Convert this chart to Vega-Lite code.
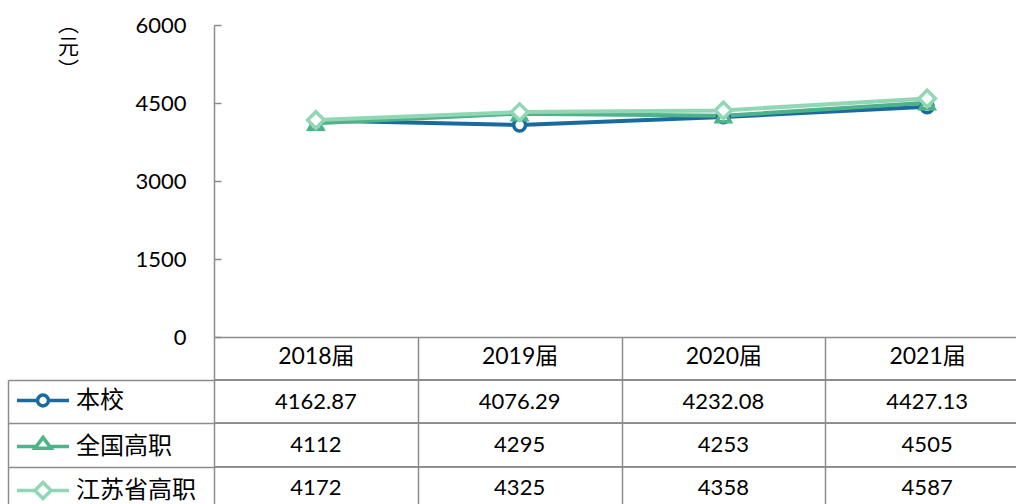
{
  "$schema": "https://vega.github.io/schema/vega-lite/v6.json",
  "width": 802,
  "height": 479,
  "autosize": "none",
  "padding": {"left": 214, "top": 25, "right": 0, "bottom": 0},
  "background": "white",
  "config": {"view": {"stroke": null}, "font": "Lato, Noto Sans CJK SC"},
  "data": {
    "values": [
      {"cat": "2018届", "series": "本校", "value": 4162.87, "text": "4162.87"},
      {"cat": "2019届", "series": "本校", "value": 4076.29, "text": "4076.29"},
      {"cat": "2020届", "series": "本校", "value": 4232.08, "text": "4232.08"},
      {"cat": "2021届", "series": "本校", "value": 4427.13, "text": "4427.13"},
      {"cat": "2018届", "series": "全国高职", "value": 4112, "text": "4112"},
      {"cat": "2019届", "series": "全国高职", "value": 4295, "text": "4295"},
      {"cat": "2020届", "series": "全国高职", "value": 4253, "text": "4253"},
      {"cat": "2021届", "series": "全国高职", "value": 4505, "text": "4505"},
      {"cat": "2018届", "series": "江苏省高职", "value": 4172, "text": "4172"},
      {"cat": "2019届", "series": "江苏省高职", "value": 4325, "text": "4325"},
      {"cat": "2020届", "series": "江苏省高职", "value": 4358, "text": "4358"},
      {"cat": "2021届", "series": "江苏省高职", "value": 4587, "text": "4587"}
    ]
  },
  "resolve": {"scale": {"y": "independent"}, "axis": {"y": "independent"}},
  "layer": [
    {
      "layer": [
        {
          "mark": {"type": "line", "strokeWidth": 4},
          "encoding": {
            "x": {
              "field": "cat", "type": "ordinal", "bandPosition": 0.5,
              "scale": {"type": "band", "domain": ["2018届", "2019届", "2020届", "2021届"], "range": [0, 815], "paddingInner": 0, "paddingOuter": 0},
              "axis": {
                "title": null, "orient": "bottom", "offset": -167,
                "domainColor": "#8C8C8C", "domainWidth": 1.5,
                "ticks": true, "tickBand": "extent", "tickSize": 180, "tickColor": "#8C8C8C", "tickWidth": 1.5,
                "labelPadding": -172, "labelFont": "Lato, Noto Sans CJK SC", "labelFontSize": 23, "labelColor": "#000000", "labelAngle": 0,
                "grid": false
              }
            },
            "y": {
              "field": "value", "type": "quantitative",
              "scale": {"domain": [0, 6000], "range": [312, 0], "nice": false, "zero": true},
              "axis": {
                "values": [0, 1500, 3000, 4500, 6000], "format": "d", "grid": false,
                "domainColor": "#8C8C8C", "domainWidth": 1.5,
                "tickColor": "#8C8C8C", "tickWidth": 1.5, "tickSize": -7,
                "labelPadding": 35, "labelFont": "Lato", "labelFontSize": 22, "labelColor": "#000000",
                "title": ["︵", "元", "︶"], "titleAngle": 0, "titleX": -146, "titleY": -12,
                "titleAlign": "center", "titleBaseline": "top", "titleFont": "Noto Sans CJK SC",
                "titleFontSize": 21, "titleFontWeight": "normal", "titleColor": "#000000", "titleLineHeight": 23
              }
            },
            "color": {
              "field": "series", "type": "nominal",
              "scale": {"domain": ["本校", "全国高职", "江苏省高职"], "range": ["#1A6A9F", "#4EB388", "#92D7B5"]},
              "legend": {
                "orient": "none", "legendX": -186, "legendY": 360.5, "title": null, "padding": 0,
                "symbolSize": 676, "symbolStrokeWidth": 3.5,
                "labelFont": "Noto Sans CJK SC", "labelFontSize": 24, "labelColor": "#000000",
                "labelOffset": 18, "rowPadding": 16, "labelLimit": 300,
                "encode": {
                  "symbols": {
                    "update": {
                      "shape": {"signal": "datum.value === '本校' ? 'M-2,0H-0.42M0.42,0H2M-0.42,0A0.42,0.42,0,1,1,0.42,0A0.42,0.42,0,1,1,-0.42,0Z' : datum.value === '全国高职' ? 'M-2,0H-0.52M0.52,0H2M0,-0.7L0.62,0.14L-0.62,0.14Z' : 'M-2,0H-0.62M0.62,0H2M-0.62,0L0,-0.62L0.62,0L0,0.62Z'"},
                      "fill": {"value": "white"},
                      "fillOpacity": {"value": 1},
                      "opacity": {"value": 1},
                      "strokeWidth": {"value": 3.5},
                      "size": {"value": 676}
                    }
                  }
                }
              }
            }
          }
        },
        {
          "transform": [{"filter": "datum.series === '本校'"}],
          "mark": {"type": "point", "shape": "circle", "size": 140, "filled": true, "fill": "white", "stroke": "#1A6A9F", "strokeWidth": 3.5, "opacity": 1},
          "encoding": {
            "x": {"field": "cat", "type": "ordinal", "bandPosition": 0.5},
            "y": {"field": "value", "type": "quantitative"}
          }
        },
        {
          "transform": [{"filter": "datum.series === '全国高职'"}],
          "mark": {"type": "point", "shape": "triangle-up", "size": 190, "filled": true, "fill": "white", "stroke": "#4EB388", "strokeWidth": 3.5, "opacity": 1},
          "encoding": {
            "x": {"field": "cat", "type": "ordinal", "bandPosition": 0.5},
            "y": {"field": "value", "type": "quantitative"}
          }
        },
        {
          "transform": [{"filter": "datum.series === '江苏省高职'"}],
          "mark": {"type": "point", "shape": "diamond", "size": 270, "filled": true, "fill": "white", "stroke": "#92D7B5", "strokeWidth": 3.5, "opacity": 1},
          "encoding": {
            "x": {"field": "cat", "type": "ordinal", "bandPosition": 0.5},
            "y": {"field": "value", "type": "quantitative"}
          }
        }
      ]
    },
    {
      "layer": [
        {
          "mark": {"type": "rule", "color": "#8C8C8C", "strokeWidth": 1.5},
          "encoding": {
            "y": {
              "field": "series", "type": "nominal", "bandPosition": 0,
              "scale": {"type": "band", "domain": ["本校", "全国高职", "江苏省高职"], "range": [355, 485], "paddingInner": 0, "paddingOuter": 0},
              "axis": {
                "orient": "left", "offset": 206, "labels": false, "title": null,
                "values": ["本校", "全国高职", "江苏省高职"],
                "domainColor": "#8C8C8C", "domainWidth": 1.5,
                "tickBand": "extent", "tickSize": -206.5, "tickColor": "#8C8C8C", "tickWidth": 1.5,
                "grid": false
              }
            }
          }
        },
        {
          "mark": {"type": "text", "font": "Lato", "fontSize": 22, "color": "#000000", "align": "center", "baseline": "middle"},
          "encoding": {
            "x": {"field": "cat", "type": "ordinal", "bandPosition": 0.5},
            "y": {"field": "series", "type": "nominal", "bandPosition": 0.5},
            "text": {"field": "text", "type": "nominal"}
          }
        }
      ]
    }
  ]
}
